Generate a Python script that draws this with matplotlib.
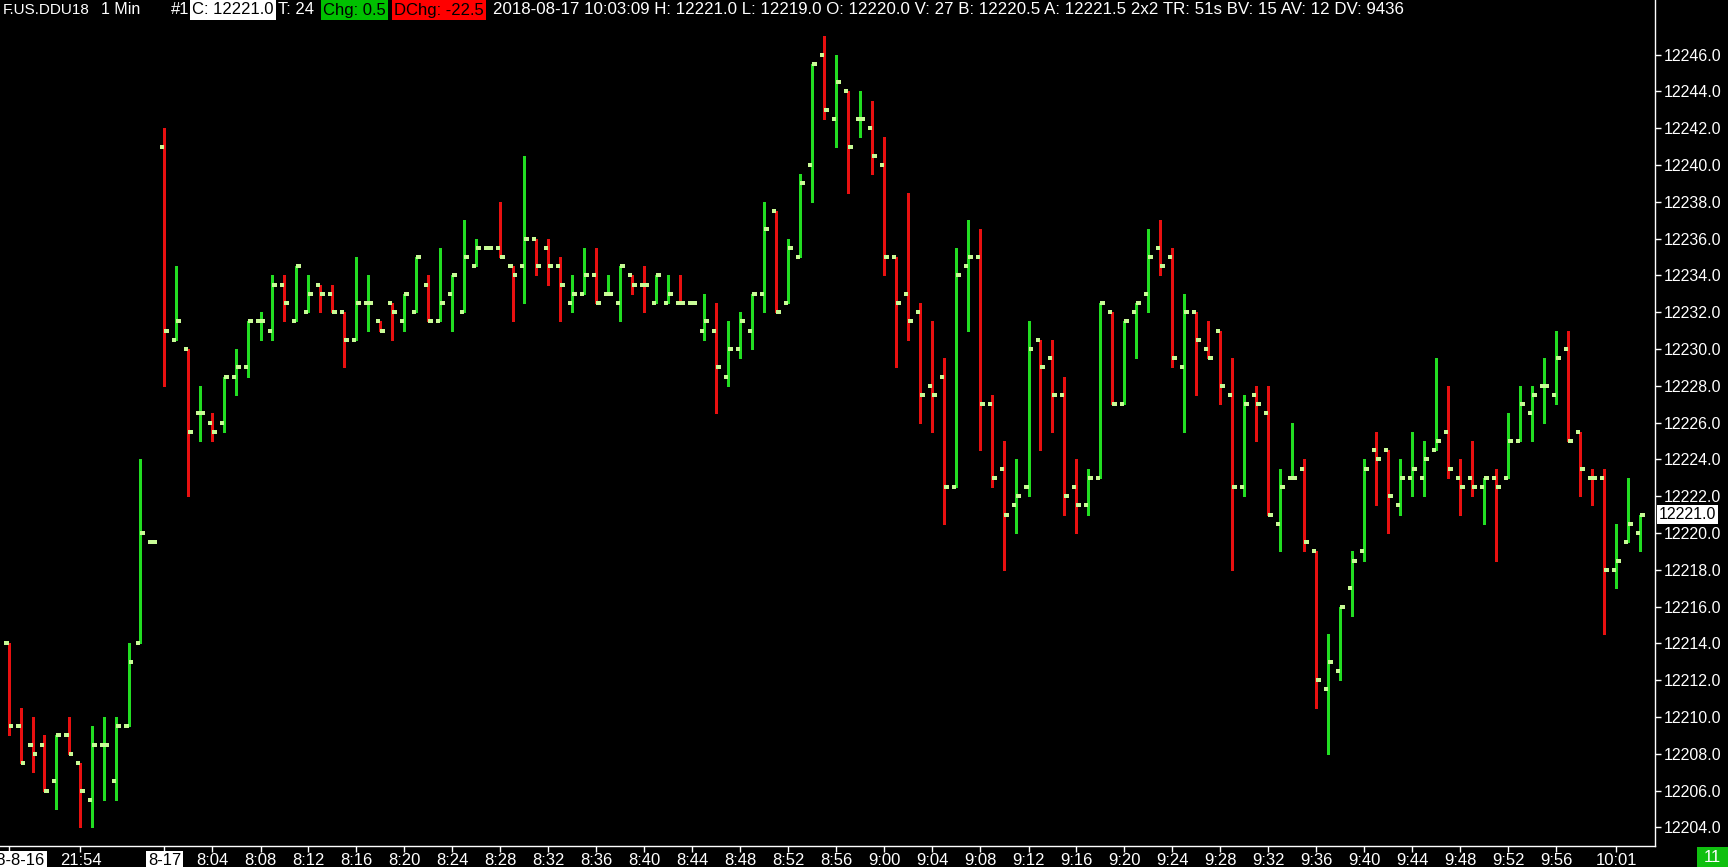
import matplotlib
matplotlib.use("Agg")
import matplotlib.pyplot as plt
import matplotlib.transforms as mtransforms
from matplotlib.collections import LineCollection
from matplotlib.patches import Rectangle
import numpy as np
import pandas as pd

plt.rcParams['font.family'] = ['Liberation Sans', 'DejaVu Sans']

# ---------------- data ----------------
times = (list(pd.date_range('2018-08-16 21:48', '2018-08-16 22:00', freq='1min')) +
         list(pd.date_range('2018-08-17 08:00', '2018-08-17 10:03', freq='1min')))

opens = [12214, 12209.5, 12208.5, 12208.5, 12206.5, 12209, 12207.5, 12205.5, 12208.5, 12206.5,
         12209.5, 12214, 12219.5, 12241, 12230.5, 12230, 12226.5, 12226, 12226, 12228.5,
         12229, 12231.5, 12231, 12233.5, 12231.5, 12232, 12233.5, 12233, 12232, 12230.5,
         12232.5, 12231.5, 12232.5, 12231.5, 12232, 12233.5, 12231.5, 12233, 12232, 12234.5,
         12235.5, 12235.5, 12234.5, 12234.5, 12236, 12235.5, 12234.5, 12232.5, 12233, 12234,
         12233, 12232.5, 12234, 12233.5, 12232.5, 12232.5, 12232.5, 12232.5, 12231, 12231,
         12228.5, 12230, 12231, 12233, 12237.5, 12232.5, 12235, 12240, 12246, 12242.5,
         12244, 12242.5, 12242, 12240, 12235, 12233, 12232, 12228, 12228.5, 12222.5,
         12234.5, 12235, 12227, 12223.5, 12221.5, 12222.5, 12230.5, 12229.5, 12227.5, 12222.5,
         12221.5, 12223, 12232, 12227, 12232, 12233, 12235.5, 12235, 12229, 12232,
         12230, 12231, 12227.5, 12222.5, 12227.5, 12226.5, 12220.5, 12223, 12223.5, 12219,
         12211.5, 12212.5, 12217, 12219, 12224.5, 12224.5, 12221.5, 12223, 12223, 12224.5,
         12225.5, 12223, 12223, 12222.5, 12223, 12223, 12225, 12226.5, 12228, 12227.5,
         12230, 12225.5, 12223, 12223, 12218, 12219.5, 12220]
highs = [12214, 12210.5, 12210, 12209, 12209, 12210, 12207.5, 12209.5, 12210, 12210,
         12214, 12224, 12219.5, 12242, 12234.5, 12230, 12228, 12226.5, 12228.5, 12230,
         12231.5, 12232, 12234, 12234, 12234.5, 12234, 12233.5, 12233.5, 12232, 12235,
         12234, 12231.5, 12232.5, 12233, 12235, 12234, 12235.5, 12234, 12237, 12236,
         12235.5, 12238, 12234.5, 12240.5, 12236, 12236, 12235, 12234, 12235.5, 12235.5,
         12234, 12234.5, 12234, 12234.5, 12234, 12234, 12234, 12232.5, 12233, 12232.5,
         12231.5, 12232, 12233, 12238, 12237.5, 12236, 12239.5, 12245.5, 12247, 12246,
         12244, 12244, 12243.5, 12241.5, 12235, 12238.5, 12232.5, 12231.5, 12229.5, 12235.5,
         12237, 12236.5, 12227.5, 12225, 12224, 12231.5, 12230.5, 12230.5, 12228.5, 12224,
         12223.5, 12232.5, 12232, 12231.5, 12232.5, 12236.5, 12237, 12235.5, 12233, 12232,
         12231.5, 12231, 12229.5, 12227.5, 12228, 12228, 12223.5, 12226, 12224, 12219,
         12214.5, 12216, 12219, 12224, 12225.5, 12224.5, 12224, 12225.5, 12225, 12229.5,
         12228, 12224, 12225, 12223, 12223.5, 12226.5, 12228, 12228, 12229.5, 12231,
         12231, 12225.5, 12223.5, 12223.5, 12220.5, 12223, 12221]
lows = [12209, 12207.5, 12207, 12206, 12205, 12208, 12204, 12204, 12205.5, 12205.5,
        12209.5, 12214, 12219.5, 12228, 12230.5, 12222, 12225, 12225, 12225.5, 12227.5,
        12228.5, 12230.5, 12230.5, 12231.5, 12231.5, 12232, 12232, 12232, 12229, 12230.5,
        12231, 12231, 12230.5, 12231, 12232, 12231.5, 12231.5, 12231, 12232, 12234.5,
        12235.5, 12235, 12231.5, 12232.5, 12234, 12233.5, 12231.5, 12232, 12233, 12232.5,
        12233, 12231.5, 12233, 12232, 12232.5, 12232.5, 12232.5, 12232.5, 12230.5, 12226.5,
        12228, 12229.5, 12230, 12232, 12232, 12232.5, 12235, 12238, 12242.5, 12241,
        12238.5, 12241.5, 12239.5, 12234, 12229, 12230.5, 12226, 12225.5, 12220.5, 12222.5,
        12231, 12224.5, 12222.5, 12218, 12220, 12222, 12224.5, 12225.5, 12221, 12220,
        12221, 12223, 12227, 12227, 12229.5, 12232, 12234, 12229, 12225.5, 12227.5,
        12229.5, 12227, 12218, 12222, 12225, 12221, 12219, 12223, 12219, 12210.5,
        12208, 12212, 12215.5, 12218.5, 12221.5, 12220, 12221, 12222, 12222, 12224.5,
        12223, 12221, 12222, 12220.5, 12218.5, 12223, 12225, 12225, 12226, 12227,
        12225, 12222, 12221.5, 12214.5, 12217, 12219.5, 12219]
closes = [12209.5, 12207.5, 12208, 12206, 12209, 12208, 12206, 12208.5, 12208.5, 12209.5,
          12213, 12220, 12219.5, 12231, 12231.5, 12225.5, 12226.5, 12225.5, 12228.5, 12229,
          12231.5, 12231.5, 12233.5, 12232.5, 12234.5, 12233, 12233, 12232, 12230.5, 12232.5,
          12232.5, 12231, 12232, 12233, 12235, 12231.5, 12232.5, 12234, 12235, 12235.5,
          12235.5, 12235, 12234, 12236, 12234.5, 12234.5, 12233.5, 12233, 12234, 12232.5,
          12233, 12234.5, 12233.5, 12233.5, 12234, 12233, 12232.5, 12232.5, 12231.5, 12229,
          12230, 12231.5, 12233, 12236.5, 12232, 12235.5, 12239, 12245.5, 12243, 12244.5,
          12241, 12242.5, 12240.5, 12235, 12232.5, 12231.5, 12227.5, 12227.5, 12222.5, 12234,
          12235, 12227, 12223, 12221, 12222, 12230, 12229, 12227.5, 12222, 12221.5,
          12223, 12232.5, 12227, 12231.5, 12232.5, 12235, 12234.5, 12229.5, 12232, 12230.5,
          12229.5, 12228, 12222.5, 12227, 12227, 12221, 12222.5, 12223, 12219.5, 12212,
          12213, 12216, 12218.5, 12223.5, 12224, 12222, 12223, 12223.5, 12224, 12225,
          12223.5, 12222.5, 12222.5, 12223, 12222.5, 12225, 12227, 12227.5, 12228, 12229.5,
          12225, 12223.5, 12223, 12218, 12218.5, 12220.5, 12221]

time_tick_labels = ['21:54', '8:04', '8:08', '8:12', '8:16', '8:20', '8:24', '8:28', '8:32',
                    '8:36', '8:40', '8:44', '8:48', '8:52', '8:56', '9:00', '9:04', '9:08',
                    '9:12', '9:16', '9:20', '9:24', '9:28', '9:32', '9:36', '9:40', '9:44',
                    '9:48', '9:52', '9:56', '10:01']
date_tick_labels = {'2018-08-16 21:48': '18-8-16', '2018-08-17 08:00': '8-17'}
price_ticks = np.arange(12204, 12247, 2)

header_pieces = [  # (x position px, text, text colour, box colour, font size)
    (3, 'F.US.DDU18', 'white', None, 11),
    (101, '1 Min', 'white', None, 11.5),
    (171, '#1', 'white', None, 12),
    (192, 'C: 12221.0', 'black', 'white', 12),
    (278, 'T: 24', 'white', None, 12),
    (323, 'Chg: 0.5', 'black', '#00c000', 12),
    (394, 'DChg: -22.5', 'black', '#ff0000', 12),
    (493, '2018-08-17 10:03:09 H: 12221.0 L: 12219.0 O: 12220.0 V: 27 B: 12220.5 '
          'A: 12221.5 2x2 TR: 51s BV: 15 AV: 12 DV: 9436', 'white', None, 12.2),
]

# ---------------- layout ----------------
W, H = 1728, 867
plot_right, plot_bottom = 1655, 846
bar_px, first_bar_px = 12.0, 8.5
ref_price, ref_px, px_per_pt = 12246, 54.5, 18.4

UP, DOWN, TICK = '#22dd22', '#e81010', '#c8fa96'

fig = plt.figure(figsize=(W / 100, H / 100), dpi=100, facecolor='black')
ax = fig.add_axes([0, (H - plot_bottom) / H, plot_right / W, plot_bottom / H])
ax.set_facecolor('black')

n = len(closes)
x = np.arange(n)
o, hi, lo, c = map(np.asarray, (opens, highs, lows, closes))

colors = []
prev_col = UP
for i in range(n):
    if c[i] > o[i]:
        col = UP
    elif c[i] < o[i]:
        col = DOWN
    elif i > 0 and c[i] > c[i - 1]:
        col = UP
    elif i > 0 and c[i] < c[i - 1]:
        col = DOWN
    else:
        col = prev_col
    colors.append(col)
    prev_col = col

hl = LineCollection([[(xi, l), (xi, h)] for xi, l, h in zip(x, lo, hi)],
                    colors=colors, linewidths=0.75, antialiased=False)
ax.add_collection(hl)
tw = 0.4
ot = LineCollection([[(xi - tw, v), (xi, v)] for xi, v in zip(x, o)],
                    colors=TICK, linewidths=1.7, capstyle='butt', antialiased=False)
ct = LineCollection([[(xi, v), (xi + tw, v)] for xi, v in zip(x, c)],
                    colors=TICK, linewidths=1.7, capstyle='butt', antialiased=False)
ax.add_collection(ot)
ax.add_collection(ct)

ax.set_xlim(-first_bar_px / bar_px, (plot_right - first_bar_px) / bar_px)
ax.set_ylim(ref_price - (plot_bottom - ref_px) / px_per_pt, ref_price + ref_px / px_per_pt)

for s in ['top', 'left']:
    ax.spines[s].set_visible(False)
for s in ['right', 'bottom']:
    ax.spines[s].set_color('white')
    ax.spines[s].set_linewidth(1.0)

# y axis on right
ax.yaxis.tick_right()
ax.set_yticks(price_ticks)
ax.set_yticklabels([f'{p:.1f}' for p in price_ticks])
ax.tick_params(axis='y', colors='white', length=4, width=1, pad=2, labelsize=11.5)

# x axis labels
lab_pos, lab_txt, date_idx = [], [], []
for i, t in enumerate(times):
    key = t.strftime('%Y-%m-%d %H:%M')
    hm = f'{t.hour}:{t.minute:02d}'
    if key in date_tick_labels:
        lab_pos.append(i)
        lab_txt.append(date_tick_labels[key])
        date_idx.append(len(lab_txt) - 1)
    elif hm in time_tick_labels:
        lab_pos.append(i)
        lab_txt.append(hm)
ax.set_xticks(lab_pos)
ax.set_xticklabels(lab_txt)
ax.tick_params(axis='x', colors='white', length=4, width=1, pad=1, labelsize=12)
for k, lab in enumerate(ax.get_xticklabels()):
    if k in date_idx:
        lab.set_color('black')
        lab.set_bbox(dict(boxstyle='square,pad=0.1', fc='white', ec='none'))
        if k == 0:
            lab.set_transform(lab.get_transform() +
                              mtransforms.ScaledTranslation(8 / 100, 0, fig.dpi_scale_trans))

# current price box
trans = mtransforms.offset_copy(ax.get_yaxis_transform(), fig=fig, x=4, y=0, units='dots')
ax.text(1.0, closes[-1], f'{closes[-1]:.1f}', transform=trans, ha='left', va='center',
        fontsize=11.5, color='black',
        bbox=dict(boxstyle='square,pad=0.12', fc='white', ec='none'), zorder=5)

# header
for xp, txt, fg, bg, fs in header_pieces:
    kw = {}
    if bg is not None:
        kw['bbox'] = dict(boxstyle='square,pad=0.15', fc=bg, ec='none')
    fig.text(xp / W, 1 - 10 / H, txt, color=fg, fontsize=fs, ha='left', va='center', **kw)

# bottom-right counter
fig.patches.append(Rectangle((1697 / W, 0), 31 / W, 20 / H, transform=fig.transFigure,
                             fc='#10c010', ec='none'))
fig.text(1712.5 / W, 10 / H, '11', color='white', fontsize=12, ha='center', va='center')

fig.savefig('out.png', dpi=100, facecolor='black')
